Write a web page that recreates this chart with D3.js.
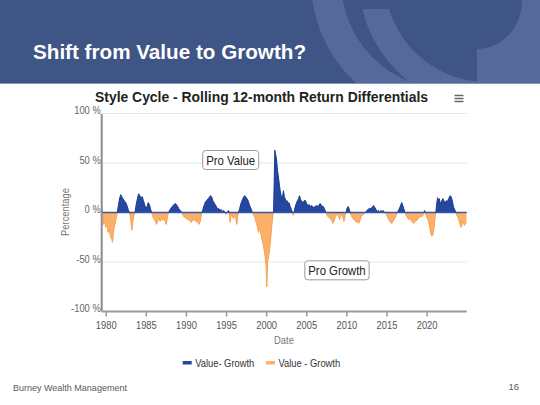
<!DOCTYPE html>
<html><head><meta charset="utf-8">
<script src="https://cdn.jsdelivr.net/npm/d3@7"></script>
<style>html,body{margin:0;padding:0;background:#fff;}svg{display:block;font-family:"Liberation Sans",Arial,sans-serif;}</style>
</head><body><div id="chart"></div>
<script>
// ---- data (decimal year, rolling 12-month Value minus Growth return, %) ----
const dates = [1979.5,1979.6,1979.75,1979.9,1980.0,1980.15,1980.3,1980.45,1980.6,1980.75,1980.85,1980.95,1981.05,1981.2,1981.35,1981.45,1981.6,1981.75,1981.88,1982.0,1982.15,1982.3,1982.5,1982.65,1982.8,1982.95,1983.1,1983.25,1983.35,1983.5,1983.65,1983.8,1983.95,1984.1,1984.25,1984.4,1984.55,1984.7,1984.85,1985.0,1985.15,1985.3,1985.45,1985.6,1985.75,1985.9,1986.05,1986.2,1986.35,1986.5,1986.65,1986.8,1986.95,1987.1,1987.25,1987.4,1987.55,1987.7,1987.8,1987.95,1988.1,1988.3,1988.5,1988.7,1988.9,1989.1,1989.3,1989.5,1989.65,1989.8,1989.95,1990.1,1990.25,1990.4,1990.55,1990.7,1990.85,1991.0,1991.15,1991.3,1991.45,1991.6,1991.75,1991.9,1992.0,1992.15,1992.3,1992.45,1992.6,1992.75,1992.9,1993.05,1993.2,1993.35,1993.5,1993.65,1993.8,1993.95,1994.1,1994.25,1994.4,1994.55,1994.7,1994.85,1995.0,1995.15,1995.3,1995.4,1995.5,1995.6,1995.75,1995.9,1996.05,1996.2,1996.35,1996.45,1996.55,1996.7,1996.85,1997.0,1997.15,1997.3,1997.45,1997.6,1997.75,1997.9,1998.05,1998.2,1998.3,1998.45,1998.6,1998.75,1998.9,1999.05,1999.2,1999.35,1999.5,1999.65,1999.8,1999.92,2000.0,2000.08,2000.17,2000.3,2000.42,2000.55,2000.65,2000.75,2000.85,2000.92,2001.0,2001.08,2001.2,2001.3,2001.42,2001.53,2001.65,2001.75,2001.85,2001.96,2002.08,2002.16,2002.27,2002.37,2002.5,2002.6,2002.7,2002.85,2003.0,2003.15,2003.3,2003.38,2003.48,2003.6,2003.75,2003.9,2004.05,2004.15,2004.3,2004.45,2004.6,2004.75,2004.9,2005.05,2005.2,2005.35,2005.5,2005.7,2005.9,2006.1,2006.3,2006.5,2006.7,2006.85,2007.0,2007.15,2007.3,2007.45,2007.6,2007.8,2008.0,2008.15,2008.3,2008.45,2008.6,2008.75,2008.9,2009.05,2009.15,2009.3,2009.45,2009.6,2009.7,2009.85,2009.98,2010.1,2010.25,2010.4,2010.5,2010.65,2010.8,2010.95,2011.1,2011.25,2011.4,2011.55,2011.7,2011.85,2012.0,2012.2,2012.4,2012.55,2012.7,2012.85,2013.0,2013.2,2013.38,2013.55,2013.7,2013.85,2014.0,2014.15,2014.3,2014.45,2014.6,2014.75,2014.9,2015.05,2015.2,2015.35,2015.5,2015.67,2015.8,2015.95,2016.1,2016.25,2016.35,2016.5,2016.65,2016.8,2016.9,2017.0,2017.15,2017.3,2017.45,2017.6,2017.75,2017.9,2018.05,2018.2,2018.37,2018.5,2018.65,2018.8,2018.95,2019.1,2019.25,2019.4,2019.55,2019.65,2019.75,2019.85,2019.95,2020.1,2020.25,2020.4,2020.55,2020.66,2020.8,2020.92,2021.05,2021.15,2021.25,2021.37,2021.5,2021.6,2021.7,2021.85,2022.03,2022.15,2022.3,2022.45,2022.6,2022.75,2022.94,2023.05,2023.14,2023.25,2023.35,2023.5,2023.65,2023.8,2023.98,2024.1,2024.28,2024.4,2024.5,2024.6,2024.72,2024.85,2025.0];
const diffs = [5,-3,-12,-10,-15,-13,-20,-18,-25,-27,-30,-22,-15,-10,-4,0,8,15,18,16,14,12,10,7,3,0,-6,-18,-12,-3,0,8,14,19,17,15,16,12,8,4,6,10,8,3,0,-5,-7,-9,-12,-8,-6,-9,-6,-8,-5,-9,-12,-5,0,2,4,6,8,9,7,4,2,0,-3,-5,-4,-7,-6,-8,-9,-10,-7,-8,-6,-10,-8,-12,-10,-4,0,4,8,11,12,14,15,17,16,12,10,8,6,3,4,2,3,1,2,0,-2,0,2,0,-10,-4,-2,-6,-3,-6,-12,-4,0,4,9,12,15,17,16,14,12,8,5,2,0,-3,-5,-10,-14,-20,-16,-22,-28,-33,-40,-48,-55,-75,-50,-45,-38,-28,-18,-10,-2,0,30,63,58,53,42,36,28,22,18,12,18,22,16,14,11,12,9,10,6,3,0,-3,0,5,9,12,14,17,13,11,10,12,12,9,7,8,6,7,5,6,7,6,9,8,6,6,3,0,-3,-5,-6,-8,-11,-9,-5,-3,-1,-4,-7,-3,-2,-6,-9,-3,0,5,6,2,0,-4,-6,-7,-8,-10,-9,-11,-8,-4,-3,-1,0,2,3,4,4,5,7,5,3,1,2,0,2,1,2,0,-1,-3,-6,-8,-10,-11,-9,-7,-5,-2,0,2,5,8,10,8,4,0,-3,-5,-7,-6,-8,-9,-11,-10,-8,-8,-6,-5,-4,-4,-3,-1,2,0,-3,-6,-9,-16,-22,-24,-22,-16,-6,0,8,15,12,14,9,11,14,12,9,12,11,14,17,16,14,10,6,3,0,-3,-6,-10,-15,-13,-9,-10,-13,-11,-10];
const xTickYears = [1980,1985,1990,1995,2000,2005,2010,2015,2020];
const yTickValues = [100,50,0,-50,-100];
const seriesNames = ["Value- Growth","Value - Growth"];
const annotationTexts = ["Pro Value","Pro Growth"];
const annotationYears = [1995.58,2008.83];
const annotationValues = [53,-58.4];
const slideTitle = "Shift from Value to Growth?";
const chartTitle = "Style Cycle - Rolling 12-month Return Differentials";
const footerLeft = "Burney Wealth Management";
const pageNumber = "16";

// ---- drawing ----
const W = 540, H = 405;
const svg = d3.select("#chart").append("svg").attr("width", W).attr("height", H);
const defs = svg.append("defs");
const squeeze = (sel, k) => sel.each(function(){ const w = this.getComputedTextLength(); this.setAttribute("textLength", (w*k).toFixed(2)); this.setAttribute("lengthAdjust","spacingAndGlyphs"); });

// header band
svg.append("rect").attr("x",0).attr("y",0).attr("width",W).attr("height",83).attr("fill","#3e5586");
defs.append("clipPath").attr("id","hdr").append("rect").attr("x",0).attr("y",0).attr("width",W).attr("height",83);
defs.append("clipPath").attr("id","hdr2").append("rect").attr("x",0).attr("y",9).attr("width",W).attr("height",74);
const deco = svg.append("g").attr("clip-path","url(#hdr)").attr("fill","#56699a");
const ring = (cx,cy,ro,ri) => `M${cx-ro},${cy}a${ro},${ro} 0 1,0 ${2*ro},0a${ro},${ro} 0 1,0 ${-2*ro},0Z M${cx-ri},${cy}a${ri},${ri} 0 1,0 ${2*ri},0a${ri},${ri} 0 1,0 ${-2*ri},0Z`;
deco.append("path").attr("d", ring(449,-19,138,108)).attr("fill-rule","evenodd");
deco.append("g").attr("clip-path","url(#hdr2)").append("path").attr("d", ring(487,-20,128,102)).attr("fill-rule","evenodd");
deco.append("path").attr("d","M522,0 A45,48 0 0 1 477,49 L477,83 L540,83 L540,0 Z");
svg.append("line").attr("x1",0).attr("x2",W).attr("y1",83.5).attr("y2",83.5).attr("stroke","#8596bb").attr("stroke-width",1);
svg.append("text").attr("x",33).attr("y",59).attr("fill","#fff").attr("font-weight","bold").attr("font-size",20.5).text(slideTitle)
  .each(function(){ this.setAttribute("textLength", 273); this.setAttribute("lengthAdjust","spacingAndGlyphs"); });

// chart title + menu icon
svg.append("text").attr("x",95).attr("y",101.5).attr("fill","#222").attr("font-weight","bold").attr("font-size",14).text(chartTitle)
  .each(function(){ this.setAttribute("textLength", 333); this.setAttribute("lengthAdjust","spacingAndGlyphs"); });
[95.5,98.5,101.5].forEach(yy => svg.append("line").attr("x1",454.5).attr("x2",463.5).attr("y1",yy).attr("y2",yy).attr("stroke","#666").attr("stroke-width",1.5));

// scales
const x = d3.scaleLinear().domain([1979.5, 2025]).range([101.7, 466.7]);
const y = d3.scaleLinear().domain([-100, 100]).range([311.5, 113.5]);
const data = dates.map((t,i) => ({t, v: diffs[i]}));

// gridlines
svg.append("g").selectAll("line").data(yTickValues.filter(v => v !== 0 && v !== -100)).join("line")
  .attr("x1", x.range()[0]).attr("x2", x.range()[1]).attr("y1", d => y(d)).attr("y2", d => y(d))
  .attr("stroke","#e6e6e6").attr("stroke-width",1);

// areas
const y0 = y(0);
defs.append("clipPath").attr("id","above").append("rect").attr("x",x.range()[0]).attr("y",y(100)-5).attr("width",x.range()[1]-x.range()[0]).attr("height",y0-y(100)+5);
defs.append("clipPath").attr("id","below").append("rect").attr("x",x.range()[0]).attr("y",y0).attr("width",x.range()[1]-x.range()[0]).attr("height",y(-100)-y0);
const area = d3.area().x(d => x(d.t)).y0(y0).y1(d => y(d.v));
const line = d3.line().x(d => x(d.t)).y(d => y(d.v));
svg.append("path").datum(data).attr("clip-path","url(#below)").attr("d", area).attr("fill","#fcb16a");
svg.append("path").datum(data).attr("clip-path","url(#below)").attr("d", line).attr("fill","none").attr("stroke","#f8a04c").attr("stroke-width",1);
svg.append("path").datum(data).attr("clip-path","url(#above)").attr("d", area).attr("fill","#2547a0");
svg.append("path").datum(data).attr("clip-path","url(#above)").attr("d", line).attr("fill","none").attr("stroke","#1b3a8e").attr("stroke-width",1);
svg.append("line").attr("x1",x.range()[0]).attr("x2",x.range()[1]).attr("y1",y0).attr("y2",y0).attr("stroke","#3556a6").attr("stroke-width",1.5);

// y axis
const yAxis = svg.append("g").attr("transform",`translate(${x.range()[0]},0)`)
  .call(d3.axisLeft(y).tickValues(yTickValues).tickSize(0).tickPadding(1).tickFormat(d => d + " %"));
yAxis.select(".domain").remove();
yAxis.selectAll("text").attr("dy","0").attr("font-size",11).attr("fill","#666").attr("font-family","Liberation Sans, Arial, sans-serif").call(squeeze, 0.85);
svg.append("line").attr("x1",x.range()[0]).attr("x2",x.range()[0]).attr("y1",114).attr("y2",y(-100)).attr("stroke","#8c8c8c").attr("stroke-width",2);

// x axis
const xAxis = svg.append("g").attr("transform",`translate(0,${y(-100)})`)
  .call(d3.axisBottom(x).tickValues(xTickYears).tickSize(5).tickPadding(5).tickFormat(d3.format("d")));
xAxis.select(".domain").attr("stroke","#999").attr("stroke-width",2).attr("d",`M${x.range()[0]},0H${x.range()[1]}`);
xAxis.selectAll(".tick line").attr("stroke","#999").attr("stroke-width",1.5);
xAxis.selectAll("text").attr("font-size",11).attr("fill","#555").attr("font-family","Liberation Sans, Arial, sans-serif").call(squeeze, 0.85);

// axis titles
svg.append("text").attr("transform","translate(69,212) rotate(-90)").attr("text-anchor","middle").attr("font-size",11).attr("fill","#777").text("Percentage").call(squeeze,0.85);
svg.append("text").attr("x",284).attr("y",344).attr("text-anchor","middle").attr("font-size",11).attr("fill","#777").text("Date").call(squeeze,0.85);

// annotations
annotationTexts.forEach((txt,i) => {
  const g = svg.append("g");
  const cx = x(annotationYears[i]), cy = y(annotationValues[i]);
  const rect = g.append("rect");
  const t = g.append("text").attr("x",cx).attr("y",cy+5).attr("text-anchor","middle").attr("font-size",13.5).attr("fill","#222").text(txt).call(squeeze,0.84);
  const w = +t.attr("textLength");
  rect.attr("x",cx-w/2-3.5).attr("y",cy-9.5).attr("width",w+7).attr("height",19).attr("rx",3)
    .attr("fill","#fff").attr("stroke","#9a9a9a").attr("stroke-width",1);
});

// legend
const legendColors = ["#2547a0","#fcb16a"];
const legendX = [182.7, 266];
seriesNames.forEach((name,i) => {
  svg.append("rect").attr("x",legendX[i]).attr("y",361).attr("width",9).attr("height",3.5).attr("fill",legendColors[i]);
  svg.append("text").attr("x",legendX[i]+12.5).attr("y",366.5).attr("font-size",11).attr("fill","#333").text(name).call(squeeze,0.85);
});

// footer
svg.append("text").attr("x",13).attr("y",391).attr("font-size",9).attr("fill","#595959").text(footerLeft);
svg.append("text").attr("x",519).attr("y",390).attr("text-anchor","end").attr("font-size",9.5).attr("fill","#595959").text(pageNumber);
</script></body></html>
